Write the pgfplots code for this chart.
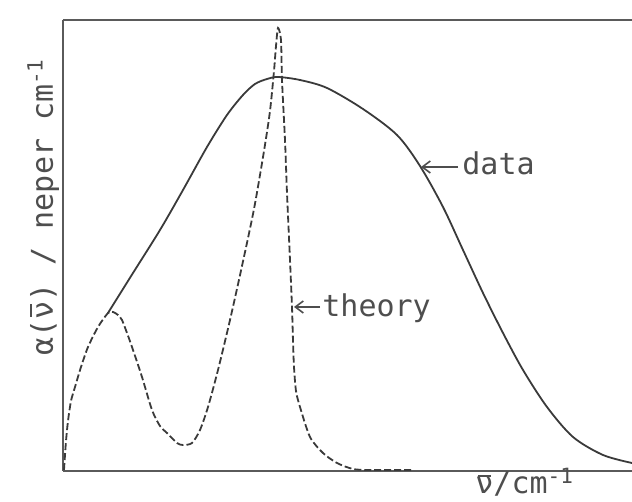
\documentclass[border=0pt]{standalone}
\usepackage{pgfplots}
\pgfplotsset{compat=1.18}
\usepackage{fontspec}
\setmainfont{DejaVu Sans Mono}
\usetikzlibrary{arrows.meta}
\definecolor{ink}{HTML}{3A3A3A}
\definecolor{framec}{HTML}{5A5A5A}
\definecolor{lett}{HTML}{4E4E4E}
% nu with an overbar, built by hand; the optional argument sets the bar height
\newcommand\nubar[1][1.3ex]{\ooalign{ν\cr\hidewidth\rule[#1]{0.42em}{0.06em}\hidewidth\cr}}

\begin{document}
\begin{tikzpicture}
\begin{axis}[
  x=0.5pt, y=0.5pt,
  xmin=63, xmax=632, ymin=0, ymax=451,
  axis x line=box, axis y line=left,
  x axis line style={-}, y axis line style={-},
  axis line style={framec, line width=1.3pt},
  xtick=\empty, ytick=\empty,
  clip=false,
]
% theory (dashed)
\addplot[ink, line width=0.9pt, dash pattern=on 3.5pt off 1.5pt, smooth, tension=0.45] coordinates {
  (64,1) (66,30) (68,50) (71,70) (75,84) (81,104) (88,124) (98,144)
  (108,158) (113,159) (118,156) (122,151) (127,138) (132,124) (142,94)
  (152,61) (160,45) (167,38) (177,28) (183,26) (192,28) (200,41)
  (208,64) (218,101) (230,151) (242,205) (254,262) (264,320) (270,360)
  (274,400) (276,425) (278,443) (281,431) (282,391) (285,331) (287,278)
  (290,211) (292,164) (293,130) (294,104) (296,80) (300,64) (310,34)
  (323,18) (337,8) (353,2) (370,1) (412,1)
};
% data (solid)
\addplot[ink, line width=0.9pt, smooth, tension=0.5] coordinates {
  (108,158) (133,198) (160,241) (183,281) (207,324) (227,356) (243,376)
  (255,387) (267,392) (278,394) (300,391) (327,383) (363,362) (397,336)
  (420,305) (443,264) (463,221) (483,178) (503,138) (523,101) (547,64)
  (573,34) (603,16) (632,8)
};
% annotations
\draw[lett, line width=0.8pt, -{Straight Barb[length=4pt,width=6pt]}] (axis cs:458,304) -- (axis cs:421,304);
\node[lett, anchor=base west, inner sep=0pt, font=\fontsize{15}{18}\selectfont] at (axis cs:462,296) {data};
\draw[lett, line width=0.8pt, -{Straight Barb[length=4pt,width=6pt]}] (axis cs:320,164) -- (axis cs:294,164);
\node[lett, anchor=base west, inner sep=0pt, font=\fontsize{15}{18}\selectfont] at (axis cs:322,154) {theory};
% axis titles
\node[lett, rotate=90, anchor=base, inner sep=0pt, font=\fontsize{15}{18}\selectfont] at (axis cs:53,264) {α(\nubar) / neper cm\textsuperscript{-1}};
\node[lett, anchor=base west, inner sep=0pt, font=\fontsize{15}{18}\selectfont] at (axis cs:475,-23) {\nubar[1.05ex]/cm\textsuperscript{-1}};
\coordinate (bl) at (axis cs:0,-31);
\coordinate (tr) at (axis cs:632,471);
\end{axis}
\pgfresetboundingbox
\path[use as bounding box] (bl) rectangle (tr);
\end{tikzpicture}
\end{document}
